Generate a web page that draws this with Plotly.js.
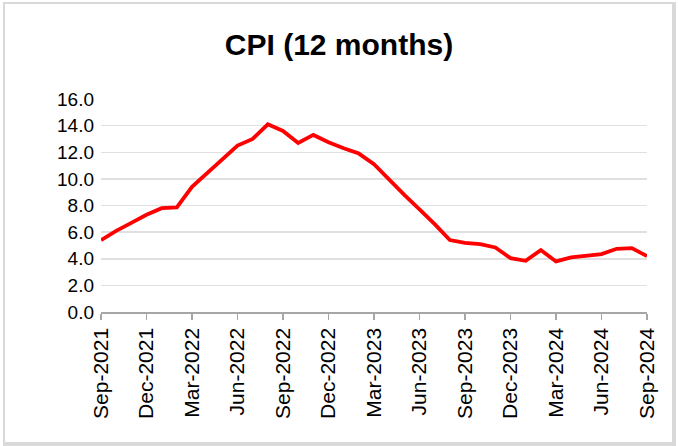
<!DOCTYPE html>
<html>
<head>
<meta charset="utf-8">
<script src="https://cdn.plot.ly/plotly-3.0.1.min.js"></script>
<style>
  html, body { margin: 0; padding: 0; background: #ffffff; }
  #frame { position: absolute; left: 3px; top: 2px; width: 673px; height: 444px; box-sizing: border-box; border: 2px solid #d9d9d9; border-right-width: 4px; border-bottom-width: 4px; }
  #chart { position: absolute; left: 0; top: 0; width: 678px; height: 446px; }
</style>
</head>
<body>
<div id="frame"></div>
<div id="chart"></div>
<script>
const months = [
  "Sep-2021","Oct-2021","Nov-2021","Dec-2021","Jan-2022","Feb-2022","Mar-2022","Apr-2022","May-2022",
  "Jun-2022","Jul-2022","Aug-2022","Sep-2022","Oct-2022","Nov-2022","Dec-2022","Jan-2023","Feb-2023",
  "Mar-2023","Apr-2023","May-2023","Jun-2023","Jul-2023","Aug-2023","Sep-2023","Oct-2023","Nov-2023",
  "Dec-2023","Jan-2024","Feb-2024","Mar-2024","Apr-2024","May-2024","Jun-2024","Jul-2024","Aug-2024","Sep-2024"
];
const cpi = [
  5.4, 6.1, 6.7, 7.3, 7.8, 7.85, 9.4, 10.45, 11.5,
  12.5, 13.0, 14.1, 13.6, 12.7, 13.3, 12.75, 12.3, 11.9,
  11.1, 9.9, 8.8, 7.7, 6.6, 5.4, 5.2, 5.1, 4.85,
  4.05, 3.85, 4.65, 3.8, 4.1, 4.2, 4.35, 4.75, 4.8, 4.2
];
const tickLabels = ["Sep-2021","Dec-2021","Mar-2022","Jun-2022","Sep-2022","Dec-2022","Mar-2023",
  "Jun-2023","Sep-2023","Dec-2023","Mar-2024","Jun-2024","Sep-2024"];
const yTicks = [0, 2, 4, 6, 8, 10, 12, 14, 16];

const trace = {
  x: months,
  y: cpi,
  type: 'scatter',
  mode: 'lines',
  line: { color: '#ff0000', width: 3.8 },
  hoverinfo: 'x+y'
};

const layout = {
  width: 678,
  height: 446,
  margin: { l: 101, r: 31, t: 99, b: 134 },
  paper_bgcolor: 'rgba(0,0,0,0)',
  plot_bgcolor: 'rgba(0,0,0,0)',
  showlegend: false,
  font: { family: 'Liberation Sans, Arial, sans-serif', color: '#000000' },
  title: {
    text: '<b>CPI (12 months)</b>',
    font: { family: 'Liberation Sans, Arial, sans-serif', size: 30, color: '#000000' },
    x: 0.5, xref: 'container', xanchor: 'center',
    y: 0.9, yref: 'container', yanchor: 'middle'
  },
  xaxis: {
    type: 'category',
    categoryorder: 'array',
    categoryarray: months,
    range: [0, months.length - 1],
    tickmode: 'array',
    tickvals: tickLabels,
    ticktext: tickLabels,
    tickangle: -90,
    tickfont: { size: 21, color: '#000000' },
    ticks: 'outside',
    ticklen: 6,
    tickwidth: 1.5,
    tickcolor: '#a6a6a6',
    showline: true,
    linecolor: '#a6a6a6',
    linewidth: 1.5,
    showgrid: false,
    zeroline: false,
    fixedrange: true
  },
  yaxis: {
    range: [0, 16],
    tickmode: 'array',
    tickvals: yTicks,
    ticktext: yTicks.map(v => v.toFixed(1)),
    tickfont: { size: 19, color: '#000000' },
    ticks: '',
    ticklabelstandoff: 6,
    showgrid: true,
    gridcolor: '#e0e0e0',
    gridwidth: 1.5,
    zeroline: false,
    showline: false,
    fixedrange: true
  }
};

Plotly.newPlot('chart', [trace], layout, { displayModeBar: false, staticPlot: true });
</script>
</body>
</html>
